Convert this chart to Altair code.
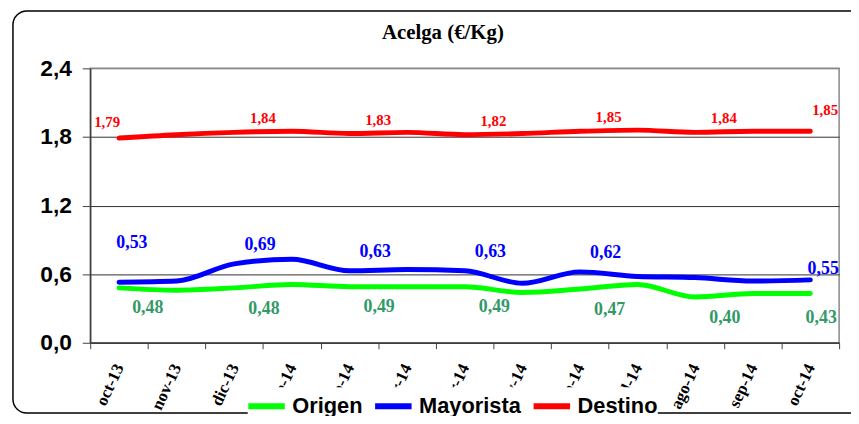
import altair as alt
import pandas as pd

months = ["oct-13", "nov-13", "dic-13", "ene-14", "feb-14", "mar-14", "abr-14",
          "may-14", "jun-14", "jul-14", "ago-14", "sep-14", "oct-14"]
origen = [0.48, 0.46, 0.48, 0.51, 0.49, 0.49, 0.49, 0.44, 0.47, 0.51, 0.40, 0.43, 0.43]
mayorista = [0.53, 0.54, 0.69, 0.73, 0.63, 0.64, 0.63, 0.52, 0.62, 0.58, 0.57, 0.54, 0.55]
destino = [1.79, 1.82, 1.84, 1.85, 1.83, 1.84, 1.82, 1.83, 1.85, 1.86, 1.84, 1.85, 1.85]
series_names = ["Origen", "Mayorista", "Destino"]
line_colors = ["#00FF00", "#0000FF", "#FF0000"]
label_colors = ["#339966", "#0000FF", "#FF0000"]
y_ticks = [0.0, 0.6, 1.2, 1.8, 2.4]
title_text = "Acelga (€/Kg)"

rows = []
for name, vals in zip(series_names, [origen, mayorista, destino]):
    for i, (m, v) in enumerate(zip(months, vals)):
        rows.append({"mes": m, "serie": name, "valor": v, "idx": i})
df = pd.DataFrame(rows)

x_enc = alt.X(
    "mes:N", sort=months,
    scale=alt.Scale(type="band", paddingInner=0, paddingOuter=0),
    axis=alt.Axis(title=None, tickBand="extent", labelAngle=295, labelAlign="right",
                  labelBaseline="middle", labelFont="Liberation Serif", labelFontWeight="bold",
                  labelFontSize=17, labelColor="black", labelPadding=16, tickSize=6,
                  tickColor="#404040", domainColor="#404040", domainWidth=1.5,
                  grid=False, labelOverlap=False),
)
y_enc = alt.Y(
    "valor:Q",
    scale=alt.Scale(domain=[0, 2.4], nice=False, zero=True),
    axis=alt.Axis(title=None, values=y_ticks,
                  labelExpr="replace(format(datum.value, '.1f'), '.', ',')",
                  labelFont="Liberation Sans", labelFontWeight="bold", labelFontSize=23,
                  labelColor="black", labelPadding=11, tickSize=8, tickColor="#404040",
                  domainColor="#404040", domainWidth=1.5, grid=True,
                  gridColor={"condition": {"test": "datum.value >= 2.4", "value": "#888888"},
                             "value": "#303030"},
                  gridWidth=1),
)

base = alt.Chart(df)

border = alt.Chart(alt.Data(values=[{"k": 1}])).mark_rect(
    fillOpacity=0, stroke="black", strokeWidth=1.5, cornerRadius=14
).encode(x=alt.value(-78), x2=alt.value(800), y=alt.value(-58), y2=alt.value(348))

lines = base.mark_line(strokeWidth=5, interpolate="monotone", strokeCap="round").encode(
    x=x_enc, y=y_enc,
    color=alt.Color(
        "serie:N", sort=series_names,
        scale=alt.Scale(domain=series_names, range=line_colors),
        legend=alt.Legend(
            title=None, orient="none", legendX=159, legendY=322, direction="horizontal",
            symbolType="M-1.15,0H1.15", symbolSize=1024, symbolStrokeWidth=6,
            labelFont="Liberation Sans", labelFontWeight="bold", labelFontSize=22,
            labelColor="black", fillColor="white", padding=0, columnPadding=0,
            labelOffset=7, labelLimit=300,
        ),
    ),
    order=alt.Order("idx:Q"),
)

label_specs = {
    "Origen": {"size": 18, "groups": [(29, 20), (30, 21), (11, 25)],
               "middle": "datum.idx > 0 && datum.idx < 12 && datum.idx % 2 == 0"},
    "Mayorista": {"size": 18, "groups": [(13, -39), (26, -19), (13, -11)],
                  "middle": "datum.idx > 0 && datum.idx < 10 && datum.idx % 2 == 0"},
    "Destino": {"size": 15, "groups": [(-12, -16), (29, -14), (15, -21)],
                "middle": "datum.idx > 0 && datum.idx < 12 && datum.idx % 2 == 0"},
}

texts = []
for name, col in zip(series_names, label_colors):
    spec = label_specs[name]
    filters = ["datum.idx == 0", spec["middle"], "datum.idx == 12"]
    for flt, (dx, dy) in zip(filters, spec["groups"]):
        t = base.transform_filter(f"datum.serie == '{name}'").transform_filter(flt).transform_calculate(
            lbl="replace(format(datum.valor, '.2f'), '.', ',')"
        ).mark_text(
            font="Liberation Serif", fontWeight="bold", fontSize=spec["size"], color=col,
            dx=dx, dy=dy, align="center", baseline="middle"
        ).encode(x=x_enc, y=y_enc, text="lbl:N")
        texts.append(t)

chart = alt.layer(border, lines, *texts).properties(
    width=756, height=277,
    padding={"left": 83, "top": 59, "right": 12, "bottom": 72},
    autosize=alt.AutoSizeParams(type="none"),
    title=alt.Title(title_text, font="Liberation Serif", fontSize=21, fontWeight="bold",
                    color="black", anchor="middle", dx=-22, offset=-33),
).configure_view(stroke="#888888", strokeWidth=1.5)

chart.save("out.html", embed_options={"renderer": "svg", "actions": False})
